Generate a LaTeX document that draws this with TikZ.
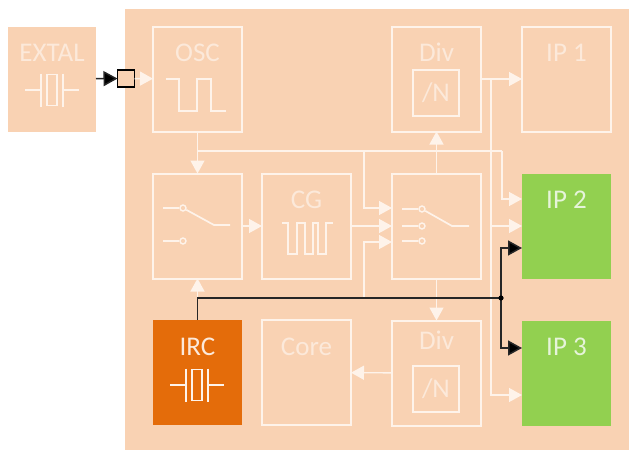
\documentclass[tikz,border=0pt]{standalone}
\usepackage{fontspec}
\setmainfont{Carlito}
\usetikzlibrary{positioning}
\usetikzlibrary{calc}
\usetikzlibrary{arrows.meta}
\definecolor{chipbg}{HTML}{F9D2B3}
\definecolor{paleln}{HTML}{FEF3EA}
\definecolor{paletxt}{HTML}{FCE9DA}
\definecolor{ircfill}{HTML}{E46C0A}
\definecolor{ipgreen}{HTML}{92D050}
\definecolor{greentxt}{HTML}{E6F4DA}
% crystal symbol: centre, colour
\newcommand{\xtal}[2]{
  \draw[symb,#2] ($#1+(-27,0)$) -- ($#1+(-11,0)$) ($#1+(11,0)$) -- ($#1+(27,0)$);
  \draw[symb,#2] ($#1+(-11,-16.5)$) -- ($#1+(-11,16.5)$) ($#1+(11,-16.5)$) -- ($#1+(11,16.5)$);
  \draw[symb,#2] ($#1+(-5,-15.5)$) rectangle ($#1+(5,15.5)$);
}
\begin{document}
\begin{tikzpicture}[x=1pt,y=-1pt,
  box/.style={draw=paleln,line width=2pt,minimum width=89pt,minimum height=105pt,inner sep=0pt,outer sep=0pt},
  solid box/.style={box,draw=none,fill=#1},
  lbl/.style={below=18pt of #1.north,inner sep=0pt,text height=17pt,text depth=0pt,text=paletxt,font=\fontsize{27}{27}\selectfont},
  nbox/.style={draw=paleln,line width=1.8pt,minimum size=46pt,inner sep=0pt,text=paletxt,font=\fontsize{27}{27}\selectfont},
  symb/.style={draw=paleln,line width=1.7pt},
  wire/.style={draw=paleln,line width=1.4pt},
  warrow/.style={wire,-{Triangle[length=13pt,width=14pt,fill=paleln]}},
  karrow/.style={draw=black!85,line width=1.5pt,-{Triangle[length=14pt,width=15pt,fill=black]}},
  contact/.style={circle,draw=paleln,line width=1.4pt,minimum size=6pt,inner sep=0pt}]

  % Chip background and page margins
  \path[use as bounding box] (0,0) rectangle (629,450);
  \fill[chipbg] (125,9) rectangle (629,450);

  % Left column anchors the layout
  \node[box] (osc) at (197.5,79) {};
  \node[box, below=42pt of osc] (swa) {};
  \node[solid box=ircfill, below=41.5pt of swa] (irc) {};
  \node[solid box=chipbg, left=57pt of osc, minimum width=88pt] (extal) {};

  % Middle and right columns
  \node[box, right=20pt of swa] (cg) {};
  \node[box, right=20pt of irc] (core) {};
  \node[box, right=41pt of cg] (swb) {};
  \node[box, above=42pt of swb] (diva) {};
  \node[box, below=42pt of swb] (divb) {};
  \node[box, right=41pt of diva] (ipa) {};
  \node[solid box=ipgreen, right=41pt of swb] (ipb) {};
  \node[solid box=ipgreen, below=42pt of ipb] (ipc) {};

  % Labels
  \node[lbl=extal] (extaltxt) {EXTAL};
  \node[lbl=osc] (osctxt) {OSC};
  \node[lbl=diva] (divatxt) {Div};
  \node[lbl=ipa] (ipatxt) {IP 1};
  \node[lbl=ipb, text=greentxt] (ipbtxt) {IP 2};
  \node[lbl=ipc, text=greentxt] (ipctxt) {IP 3};
  \node[lbl=cg] (cgtxt) {CG};
  \node[lbl=irc] (irctxt) {IRC};
  \node[lbl=core] (coretxt) {Core};
  \node[lbl=divb, yshift=6pt] (divbtxt) {Div};
  \node[nbox] (na) at (436,93) {/N};
  \node[nbox] (nb) at (436,389) {/N};

  % Port on the chip edge
  \node[draw=black,line width=1.8pt,fill=chipbg,minimum size=17pt,inner sep=0pt,outer sep=0pt] (port) at (126,78.5) {};

  % Branch points
  \coordinate (oscj) at (osc.south |- 0,151);
  \coordinate (ipbj) at (502,151);
  \coordinate (swbj) at (364,151);
  \coordinate (irj) at (364,298);
  \coordinate (outj) at (491,79);
  \coordinate (bus) at (501,298);

  % White clock nets
  \draw[warrow] (port) -- (osc);
  \draw[warrow] (osc) -- (swa);
  \draw[wire] (oscj) -- (ipbj);
  \draw[warrow] (ipbj) |- ([yshift=27pt]ipb.west);
  \draw[warrow] (swbj) |- ([yshift=18pt]swb.west);
  \draw[warrow] (swa) -- (cg);
  \draw[warrow] (cg) -- (swb);
  \draw[warrow] (irj) |- ([yshift=-16pt]swb.west);
  \draw[warrow] (swb) -- (diva);
  \draw[warrow] (swb) -- (divb);
  \draw[warrow] (divb) -- (core);
  \draw[warrow] (diva) -- (ipa);
  \draw[warrow] (outj) |- ([yshift=-22pt]ipc.west);
  \draw[warrow] (outj |- ipb.west) -- (ipb);
  \draw[warrow] (irc) -- (swa);

  % Black nets
  \draw[karrow] (extal) -- (port);
  \draw[draw=black!85,line width=1.5pt] (irc.north) |- (bus);
  \draw[karrow] (bus) |- ([yshift=-22pt]ipb.west);
  \draw[karrow] (bus) |- ([yshift=25pt]ipc.west);
  \fill[black] (bus) circle (2.6pt);

  % Symbols
  \xtal{(52,90)}{}
  \xtal{(197,385)}{}
  \draw[symb] (166,79) -- (179,79) -- (179,111) -- (197,111) -- (197,79) -- (211,79) -- (211,111) -- (226,111);
  \draw[symb] (282,223) -- (288,223) -- (288,254) -- (297,254) -- (297,223) -- (305,223) -- (305,254)
    -- (313,254) -- (313,223) -- (318,223) -- (318,254) -- (326,254) -- (326,223) -- (333,223);

  % Switch contacts
  \node[contact] (ca) at (183,208) {};
  \node[contact] (cb) at (183,241) {};
  \node[contact] (cc) at (422,209) {};
  \node[contact] (cd) at (422,226) {};
  \node[contact] (ce) at (422,241) {};
  \coordinate (hingea) at (214,225);
  \coordinate (hingeb) at (452,226);
  \draw[symb] (163,208) -- (ca);
  \draw[symb] (163,241) -- (cb);
  \draw[symb] (ca) -- (hingea) -- ++(16,0);
  \draw[symb] (402,209) -- (cc);
  \draw[symb] (402,226) -- (cd);
  \draw[symb] (402,241) -- (ce);
  \draw[symb] (cc) -- (hingeb) -- ++(17,0);
\end{tikzpicture}
\end{document}
